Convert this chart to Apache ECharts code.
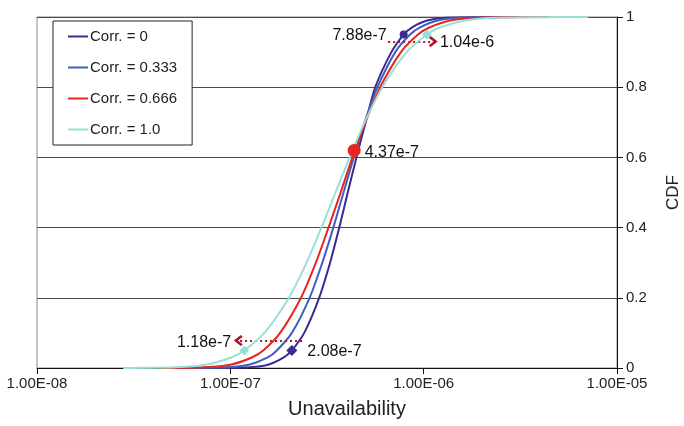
<!DOCTYPE html>
<html>
<head>
<meta charset="utf-8">
<script src="https://cdn.jsdelivr.net/npm/echarts@6/dist/echarts.min.js"></script>
<style>
  html, body { margin: 0; padding: 0; background: #fff; }
  #chart { width: 684px; height: 426px; }
</style>
</head>
<body>
<div id="chart"></div>
<script>
// Cumulative probability levels shared by every curve
const cdfLevels = [0, 0.002, 0.01, 0.03, 0.05, 0.1, 0.2, 0.3, 0.4, 0.5, 0.6, 0.7, 0.8, 0.9, 0.95, 0.97, 0.99, 0.998, 1];

// Unavailability at each level, one array per correlation value
const corr0   = [8.85e-8, 1.26e-7, 1.58e-7, 1.89e-7, 2.08e-7, 2.41e-7, 2.88e-7, 3.28e-7, 3.66e-7, 4.05e-7, 4.49e-7, 5.01e-7, 5.62e-7, 6.81e-7, 7.88e-7, 8.68e-7, 1.04e-6, 1.30e-6, 3.15e-6];
const corr333 = [5.30e-8, 9.64e-8, 1.26e-7, 1.56e-7, 1.74e-7, 2.08e-7, 2.57e-7, 2.99e-7, 3.41e-7, 3.85e-7, 4.35e-7, 4.95e-7, 5.77e-7, 7.13e-7, 8.50e-7, 9.52e-7, 1.18e-6, 1.54e-6, 2.80e-6];
const corr666 = [4.33e-8, 7.39e-8, 1.01e-7, 1.29e-7, 1.48e-7, 1.81e-7, 2.32e-7, 2.77e-7, 3.22e-7, 3.72e-7, 4.28e-7, 4.99e-7, 5.96e-7, 7.63e-7, 9.35e-7, 1.07e-6, 1.37e-6, 1.87e-6, 4.50e-6];
const corr1   = [2.79e-8, 5.23e-8, 7.53e-8, 1.01e-7, 1.18e-7, 1.50e-7, 2.01e-7, 2.48e-7, 2.96e-7, 3.50e-7, 4.14e-7, 4.95e-7, 6.11e-7, 8.17e-7, 1.04e-6, 1.21e-6, 1.63e-6, 2.34e-6, 7.08e-6];

const seriesNames = ['Corr. = 0', 'Corr. = 0.333', 'Corr. = 0.666', 'Corr. = 1.0'];
const seriesColors = ['#3b2a90', '#3f5ec2', '#e5261f', '#97e0d9'];

// Highlighted percentiles and the mean
const markerValues = [7.88e-7, 1.04e-6, 4.37e-7, 2.08e-7, 1.18e-7];
const markerCdf    = [0.95, 0.95, 0.62, 0.05, 0.05];

// Dotted arrows showing the spread of the 5th / 95th percentiles
const arrowFrom = [6.55e-7, 2.35e-7];
const arrowTo   = [1.12e-6, 1.10e-7];
const arrowCdf  = [0.93, 0.078];

const xTicks = [1e-8, 1e-7, 1e-6, 1e-5];
const yTicks = [0, 0.2, 0.4, 0.6, 0.8, 1];

const FONT = '"Liberation Sans", Arial, Helvetica, sans-serif';

function sciLabel(v) {
  const e = Math.round(Math.log10(v));
  const m = v / Math.pow(10, e);
  return m.toFixed(2) + 'E' + (e < 0 ? '-' : '+') + String(Math.abs(e)).padStart(2, '0');
}

const curves = [corr0, corr333, corr666, corr1].map((vals, i) => ({
  name: seriesNames[i],
  type: 'line',
  data: vals.map((v, k) => [v, cdfLevels[k]]),
  symbol: 'none',
  smooth: 0.25,
  lineStyle: { color: seriesColors[i], width: 2 },
  itemStyle: { color: seriesColors[i] },
  z: 3 + i
}));

const markerStyles = [
  { symbol: 'circle',  size: 8,  color: seriesColors[0], pos: 'left',  dist: 13, off: [0, 1] },
  { symbol: 'diamond', size: 10, color: seriesColors[3], pos: 'right', dist: 8,  off: [0, 8] },
  { symbol: 'circle',  size: 13, color: seriesColors[2], pos: 'right', dist: 4,  off: [0, 2] },
  { symbol: 'diamond', size: 11, color: seriesColors[0], pos: 'right', dist: 10, off: [0, 1] },
  { symbol: 'diamond', size: 10, color: seriesColors[3], pos: 'left',  dist: 8,  off: [0, -8] }
];

const markers = {
  type: 'scatter',
  z: 10,
  silent: true,
  data: markerValues.map((v, i) => ({
    value: [v, markerCdf[i]],
    symbol: markerStyles[i].symbol,
    symbolSize: markerStyles[i].size,
    itemStyle: { color: markerStyles[i].color, opacity: 1 },
    label: {
      show: true,
      position: markerStyles[i].pos,
      distance: markerStyles[i].dist,
      offset: markerStyles[i].off,
      formatter: (p) => p.value[0].toExponential(2),
      fontFamily: FONT,
      fontSize: 16,
      color: '#111',
      opacity: 1
    }
  })),
  markLine: {
    silent: true,
    symbol: ['none', 'path://M10,0 L20,10 L17,13 L10,6 L3,13 L0,10 Z'],
    symbolSize: [11, 9],
    label: { show: false },
    lineStyle: { color: '#a8182e', width: 2, type: [2, 3], opacity: 1 },
    data: arrowFrom.map((v, i) => [
      { coord: [v, arrowCdf[i]] },
      { coord: [arrowTo[i], arrowCdf[i]] }
    ])
  }
};

const chart = echarts.init(document.getElementById('chart'), null, { renderer: 'canvas' });
chart.setOption({
  animation: false,
  backgroundColor: '#fff',
  textStyle: { fontFamily: FONT },
  grid: {
    left: 37, right: 67, top: 17, bottom: 58,
    outerBoundsMode: 'none',
    containLabel: false,
    show: true, borderColor: '#8a8a8a', borderWidth: 1
  },
  legend: {
    data: seriesNames,
    orient: 'vertical',
    left: 53, top: 21,
    padding: [8, 15, 8, 15],
    itemGap: 16,
    itemWidth: 20,
    itemHeight: 14,
    backgroundColor: '#fff',
    borderColor: '#222',
    borderWidth: 1,
    textStyle: { fontFamily: FONT, fontSize: 15, color: '#222', padding: [0, 0, 0, -3] },
    icon: 'path://M0,6 L20,6 L20,8 L0,8 Z'
  },
  xAxis: {
    type: 'log',
    logBase: 10,
    min: xTicks[0],
    max: xTicks[xTicks.length - 1],
    name: 'Unavailability',
    nameLocation: 'middle',
    nameGap: 31,
    nameMoveOverlap: false,
    nameTextStyle: { fontFamily: FONT, fontSize: 20, color: '#222', padding: [0, 0, 0, 40] },
    axisLine: { show: true, lineStyle: { color: '#111', width: 1 } },
    axisTick: { show: true, inside: false, length: 6, lineStyle: { color: '#111' } },
    minorTick: { show: false },
    splitLine: { show: false },
    axisLabel: {
      margin: 8,
      fontFamily: FONT, fontSize: 15, color: '#222',
      formatter: sciLabel
    }
  },
  yAxis: {
    type: 'value',
    position: 'right',
    min: yTicks[0],
    max: yTicks[yTicks.length - 1],
    interval: 0.2,
    name: 'CDF',
    nameLocation: 'middle',
    nameRotate: 90,
    nameGap: 48,
    nameMoveOverlap: false,
    nameTextStyle: { fontFamily: FONT, fontSize: 17, color: '#222' },
    axisLine: { show: true, lineStyle: { color: '#111', width: 1 } },
    axisTick: { show: true, inside: false, length: 6, lineStyle: { color: '#111' } },
    splitLine: { show: true, lineStyle: { color: '#4a4a4a', width: 1 } },
    axisLabel: {
      margin: 9,
      fontFamily: FONT, fontSize: 15, color: '#222',
      formatter: (v) => String(Math.round(v * 10) / 10)
    }
  },
  series: curves.concat([markers])
});
</script>
</body>
</html>
